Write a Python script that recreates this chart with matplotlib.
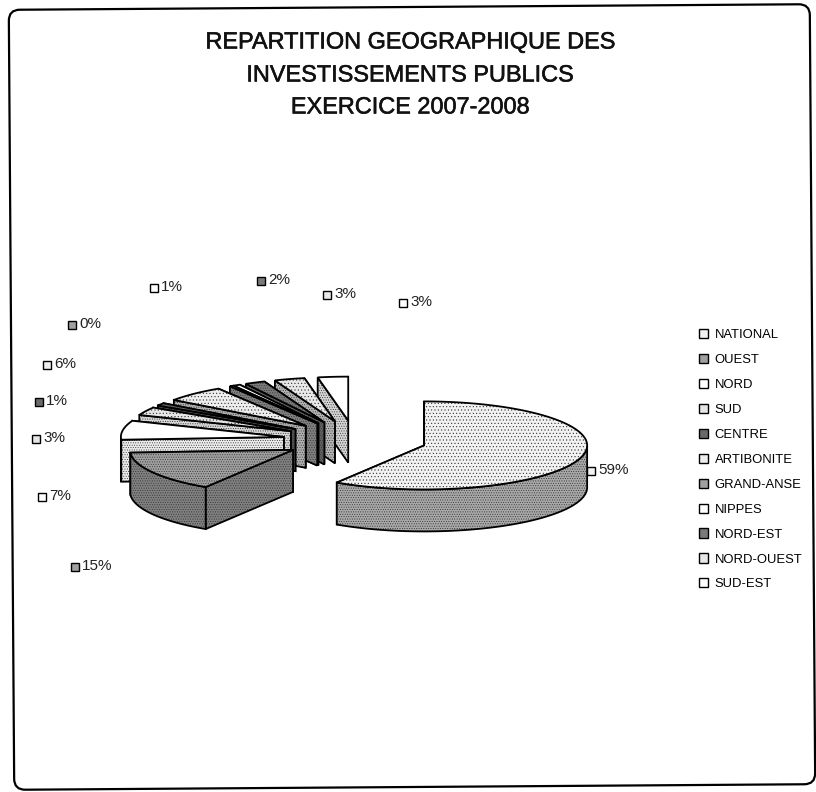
import numpy as np
import matplotlib
matplotlib.use('Agg')
import matplotlib.pyplot as plt
import matplotlib.patheffects as pe
from matplotlib.patches import Polygon, FancyBboxPatch, Patch
from matplotlib.transforms import Affine2D

plt.rcParams['font.family'] = ['Liberation Sans', 'DejaVu Sans']
plt.rcParams['hatch.linewidth'] = 0.4

regions = ['NATIONAL', 'OUEST', 'NORD', 'SUD', 'CENTRE', 'ARTIBONITE',
           'GRAND-ANSE', 'NIPPES', 'NORD-EST', 'NORD-OUEST', 'SUD-EST']
shares = [59, 15, 7, 3, 1, 6, 0, 1, 2, 3, 3]
title_lines = ['REPARTITION GEOGRAPHIQUE DES', 'INVESTISSEMENTS PUBLICS', 'EXERCICE 2007-2008']

# top and side greys of each slice, the scan dithers them so a dot hatch goes on top
top_colors = ['#f2f2f2', '#a0a0a0', '#ffffff', '#e6e6e6', '#6a6a6a', '#eeeeee',
              '#a0a0a0', '#ffffff', '#7a7a7a', '#e8e8e8', '#ffffff']
side_colors = ['#a8a8a8', '#808080', '#ececec', '#d8d8d8', '#505050', '#b0b0b0',
               '#808080', '#e4e4e4', '#606060', '#b4b4b4', '#d4d4d4']
top_hatch = ['.....', '.......', None, '.....', '.......', '.....',
             '.......', None, '.......', '.....', None]
side_hatch = '.......'

# where the percentage labels sit, in pixels
label_xy = [(591, 471), (75, 567), (42, 497), (36, 439), (39, 402), (47, 365),
            (72, 325), (154, 288), (261, 281), (327, 295), (403, 303)]

# pie geometry, in pixels
cx, cy = 355, 440
radius = 163
tilt = 0.27
depth = 42
explode = 72
outline = 1.3


def project(angle, r, ox, oy):
    return ox + r * np.sin(angle), oy - r * np.cos(angle) * tilt


def add_face(ax, pts, color, hatch, zorder):
    # fill and outline apart, so the dots stay thin and light
    ax.add_patch(Polygon(pts, closed=True, fc=color, ec='#333333', lw=0, hatch=hatch, zorder=zorder))
    ax.add_patch(Polygon(pts, closed=True, fc='none', ec='black', lw=outline, zorder=zorder))


def draw_slice(ax, a0, a1, top, side, hatch, zorder):
    mid = (a0 + a1) / 2
    ox, oy = project(mid, explode, cx, cy)
    th = np.linspace(a0, a1, max(int(np.degrees(a1 - a0)), 2) + 1)
    rx, ry = project(th, radius, ox, oy)
    top_pts = np.column_stack([np.r_[ox, rx], np.r_[oy, ry]])

    radial = [[(ox, oy), (rx[j], ry[j]), (rx[j], ry[j] + depth), (ox, oy + depth)] for j in (0, -1)]
    radial.sort(key=lambda f: np.mean([p[1] for p in f]))
    for f in radial:
        add_face(ax, f, side, side_hatch, zorder)

    # only the rim that faces the viewer
    front = np.cos(th) < 0
    if front.sum() > 1:
        upper = np.column_stack([rx[front], ry[front]])
        lower = upper + [0, depth]
        add_face(ax, np.vstack([upper, lower[::-1]]), side, side_hatch, zorder)
    add_face(ax, top_pts, top, hatch, zorder)


fig = plt.figure(figsize=(8.16, 7.92), dpi=100)
ax = fig.add_axes([0, 0, 1, 1])
ax.set_xlim(0, 816)
ax.set_ylim(792, 0)
ax.axis('off')

# the page is scanned slightly askew
frame = FancyBboxPatch((11.5, 7), 801, 780, boxstyle='round,pad=0,rounding_size=11',
                       fc='white', ec='black', lw=1.6, zorder=0, clip_on=False)
frame.set_transform(Affine2D().rotate_deg_around(412, 397, -0.4) + ax.transData)
ax.add_patch(frame)

for line, y in zip(title_lines, (42, 75, 107)):
    ax.text(410, y, line, ha='center', va='center', fontsize=16.9, color='#111111',
            path_effects=[pe.withStroke(linewidth=0.4, foreground='#111111')])

fractions = np.array(shares) / np.sum(shares)
ends = np.cumsum(fractions) * 2 * np.pi
starts = np.r_[0, ends[:-1]]

# later slices sit further back, so they go first
for i in range(len(shares) - 1, -1, -1):
    if shares[i] == 0:
        a0, a1 = starts[i], starts[i] + np.radians(1.5)
    else:
        a0, a1 = starts[i], ends[i]
    z = 2 + (len(shares) - i) * 0.1
    draw_slice(ax, a0, a1, top_colors[i], side_colors[i], top_hatch[i], z)

for val, col, (x, y) in zip(shares, top_colors, label_xy):
    ax.plot(x, y, 's', ms=5.5, mfc=col, mec='black', mew=1, zorder=5)
    ax.text(x + 7, y - 1, f'{val}%', ha='left', va='center', fontsize=11, color='#222222', zorder=5)

handles = [Patch(fc=c, ec='black', lw=1) for c in top_colors]
ax.legend(handles, regions, loc='upper left', bbox_to_anchor=(699, 329),
          bbox_transform=ax.transData, frameon=False, fontsize=9.4, handlelength=0.7,
          handleheight=0.7, handletextpad=0.5, labelspacing=0.98, borderpad=0, borderaxespad=0)

fig.savefig('out.png', dpi=100)
